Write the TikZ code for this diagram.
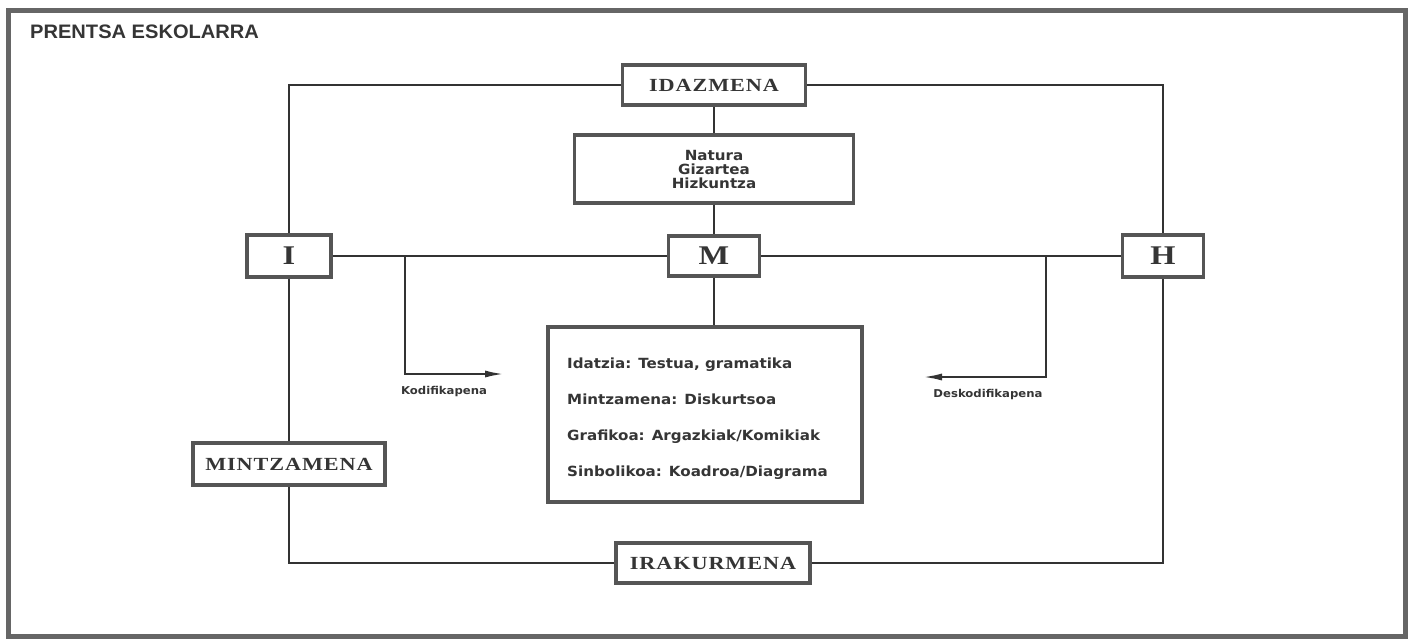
\documentclass[tikz,border=0pt]{standalone}
\usepackage{fontspec}
\usetikzlibrary{arrows.meta}
\newfontfamily\boxfont{Liberation Serif}[FakeStretch=1.2,LetterSpace=5]
\newfontfamily\sansfnt{DejaVu Sans}[FakeStretch=1.08]
\newfontfamily\titlefnt{Liberation Sans}[FakeStretch=1.03]
\definecolor{framegray}{HTML}{666666}
\definecolor{boxgray}{HTML}{555555}
\definecolor{linegray}{HTML}{333333}
\definecolor{txt}{HTML}{353535}
\tikzset{
  lbl/.style={draw=boxgray, line width=3.4pt, fill=white, inner sep=0pt, text=txt,
    font=\boxfont\bfseries\fontsize{18.5}{20}\selectfont},
  letterbox/.style={lbl, font=\boxfont\bfseries\fontsize{27}{29}\selectfont},
  conn/.style={draw=linegray, line width=2.5pt},
  arr/.style={conn, -{Latex[length=20pt,width=7pt]}},
  body/.style={text=txt, font=\sansfnt\bfseries\fontsize{14}{14}\selectfont, inner sep=0pt},
  small/.style={text=txt, font=\sansfnt\bfseries\fontsize{10.8}{12}\selectfont, inner sep=0pt}
}
\begin{document}
\begin{tikzpicture}[x=1pt,y=-1pt]
\fill[white] (0,0) rectangle (1413,641);
\useasboundingbox (0,0) rectangle (1413,641);
\draw[line width=5pt, draw=framegray] (8,10) rectangle (1405,636);
\node[anchor=base west, inner sep=0pt, text=txt, font=\titlefnt\bfseries\fontsize{19.5}{21}\selectfont] (title) at (30,38) {PRENTSA ESKOLARRA};

\node[lbl, minimum width=183pt, minimum height=40pt] (idaz) at (714,85) {IDAZMENA};
\node[lbl, body, draw=boxgray, line width=3.4pt, fill=white, minimum width=279pt, minimum height=68pt, align=center] (natura) at (714,169) {Natura\\Gizartea\\Hizkuntza};
\node[letterbox, minimum width=84pt, minimum height=42pt] (I) at (289,256) {I};
\node[letterbox, minimum width=91pt, minimum height=40pt] (M) at (714,256) {M};
\node[letterbox, minimum width=81pt, minimum height=42pt] (H) at (1163,256) {H};
\node[draw=boxgray, line width=3.4pt, fill=white, minimum width=314pt, minimum height=175pt] (big) at (705,414.5) {};
\node[body, anchor=base west] (t1) at (567,368) {Idatzia: Testua, gramatika};
\node[body, anchor=base west] (t2) at (567,404) {Mintzamena: Diskurtsoa};
\node[body, anchor=base west] (t3) at (567,440) {Grafikoa: Argazkiak/Komikiak};
\node[body, anchor=base west] (t4) at (567,476) {Sinbolikoa: Koadroa/Diagrama};
\node[lbl, minimum width=192pt, minimum height=42pt] (mintz) at (289,464) {MINTZAMENA};
\node[lbl, minimum width=194pt, minimum height=40pt] (irak) at (713,563) {IRAKURMENA};

\coordinate (k1) at (405,256);
\coordinate (k2) at (505,374);
\coordinate (d1) at (1046,256);
\coordinate (d2) at (922,377);
\node[small, anchor=base] (kodl) at (444,394) {Kodifikapena};
\node[small, anchor=base] (deskl) at (988,397) {Deskodifikapena};

\draw[conn] (idaz.west) -| (I.north);
\draw[conn] (idaz.east) -| (H.north);
\draw[conn] (idaz.south) -- (natura.north);
\draw[conn] (natura.south) -- (M.north);
\draw[conn] (I.east) -- (M.west);
\draw[conn] (M.east) -- (H.west);
\draw[conn] (M.south) -- (M.south |- big.north);
\draw[conn] (I.south) -- (mintz.north);
\draw[conn] (mintz.south) |- (irak.west);
\draw[conn] (irak.east) -| (H.south);
\draw[arr] (k1) |- (k2);
\draw[arr] (d1) |- (d2);
\end{tikzpicture}
\end{document}
